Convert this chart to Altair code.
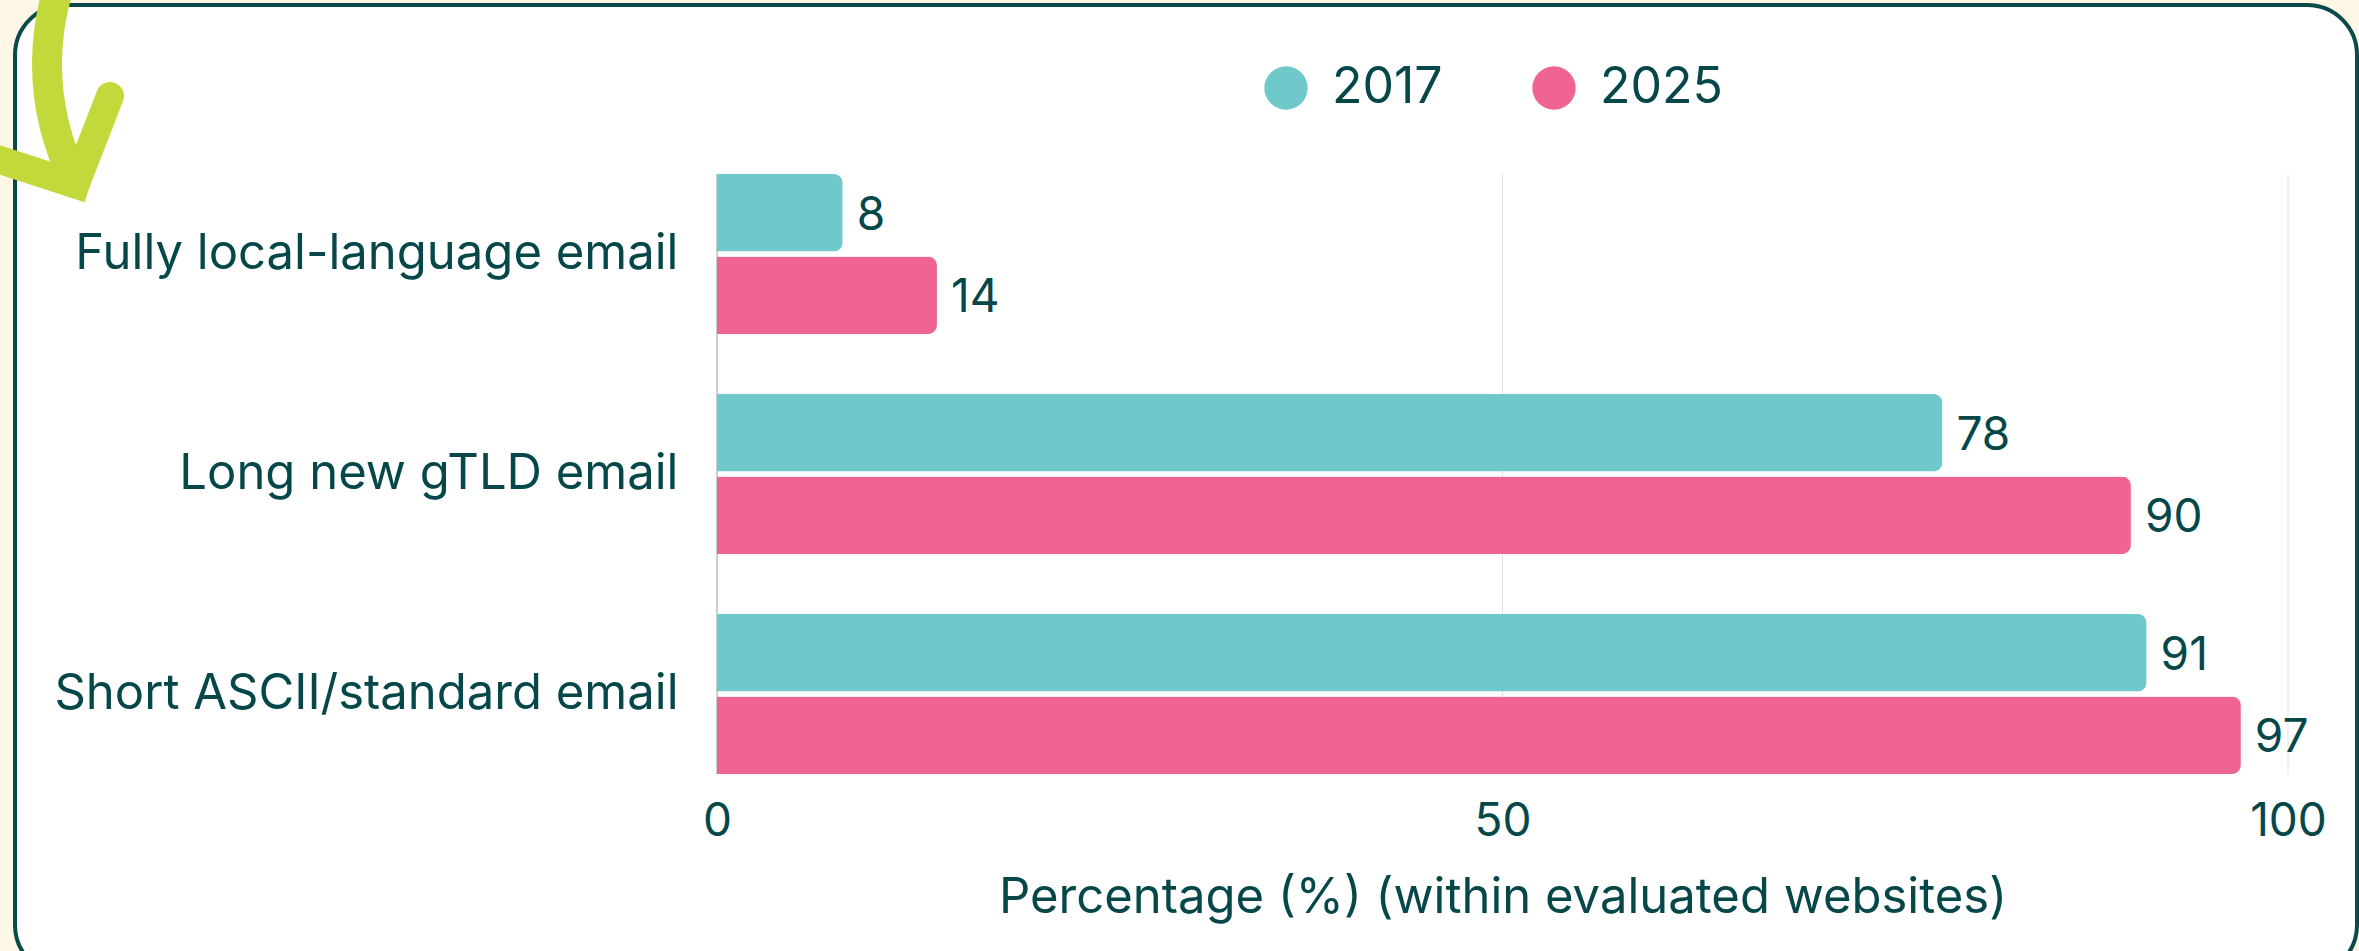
import altair as alt
import pandas as pd

# ---- data ----
categories = ["Fully local-language email", "Long new gTLD email", "Short ASCII/standard email"]
years = ["2017", "2025"]
values_2017 = [8, 78, 91]
values_2025 = [14, 90, 97]
x_ticks = [0, 50, 100]
colors = ["#6FC9CA", "#EF6490"]

rows = []
for c, a, b in zip(categories, values_2017, values_2025):
    rows.append({"category": c, "year": years[0], "value": a})
    rows.append({"category": c, "year": years[1], "value": b})
df = pd.DataFrame(rows)
grid_df = pd.DataFrame({"value": x_ticks})
one = pd.DataFrame({"k": [0]})

# ---- layout ----
W, H = 1571, 600
L, T = 717, 174
FONT = "Inter"
TEXT = "#06474A"
LIME = "#C3D93B"
FS = 46

# decorative card
card = alt.Chart(one).mark_rect(
    fill="white", stroke="#0B4A4A", strokeWidth=4, cornerRadius=50
).encode(
    x=alt.value(15 - L), x2=alt.value(2357 - L),
    y=alt.value(5 - T), y2=alt.value(975 - T),
)

# decorative arrow
stem = alt.Chart(one).mark_arc(color=LIME).encode(
    x=alt.value(304 - L), y=alt.value(64 - T),
    radius=alt.value(272), radius2=alt.value(242),
    theta=alt.value(4.227), theta2=alt.value(5.236),
)
arm1 = alt.Chart(one).mark_rule(color=LIME, strokeWidth=28, strokeCap="square").encode(
    x=alt.value(-10 - L), y=alt.value(156.7 - T),
    x2=alt.value(75.6 - L), y2=alt.value(184.5 - T),
)
arm2 = alt.Chart(one).mark_rule(color=LIME, strokeWidth=28, strokeCap="round").encode(
    x=alt.value(75.6 - L), y=alt.value(184.5 - T),
    x2=alt.value(110 - L), y2=alt.value(96 - T),
)

xscale = alt.Scale(domain=[0, 100], nice=False, zero=True)
xaxis = alt.Axis(
    values=x_ticks, title="Percentage (%) (within evaluated websites)",
    labelFont=FONT, labelFontSize=FS, labelColor=TEXT, labelPadding=25,
    ticks=False, tickSize=0, domain=False, grid=False, labelFlush=False,
    titleFont=FONT, titleFontSize=49, titleFontWeight="normal", titleColor=TEXT,
    titlePadding=29, zindex=1,
)

grid = alt.Chart(grid_df).mark_rule(strokeWidth=1).encode(
    x=alt.X("value:Q", scale=xscale, axis=xaxis),
    color=alt.condition(alt.datum.value == 0, alt.value("#8FA2A2"), alt.value("#E0E3E3")),
)

yaxis = alt.Axis(
    title=None, labelFont=FONT, labelFontSize=49, labelColor=TEXT,
    labelPadding=39, ticks=False, tickSize=0, domain=False, grid=False,
    labelLimit=1000, zindex=1,
)
yenc = alt.Y(
    "category:N", sort=categories,
    scale=alt.Scale(paddingInner=0.273, paddingOuter=0),
    axis=yaxis,
)
yoff = alt.YOffset("year:N", sort=years, scale=alt.Scale(paddingInner=0.06, paddingOuter=0))

bars = alt.Chart(df).mark_bar(cornerRadiusEnd=9).encode(
    x=alt.X("value:Q", scale=xscale, axis=xaxis),
    y=yenc,
    yOffset=yoff,
    color=alt.Color(
        "year:N", sort=years,
        scale=alt.Scale(domain=years, range=colors),
        legend=alt.Legend(
            title=None, orient="none", legendX=544, legendY=-111,
            direction="horizontal", symbolType="circle", symbolSize=1886,
            symbolStrokeWidth=0, labelFont=FONT, labelFontSize=50, labelColor=TEXT,
            labelOffset=21, columnPadding=86, padding=0, zindex=1,
        ),
    ),
)

labels = alt.Chart(df).mark_text(
    align="left", baseline="middle", dx=14, dy=3, font=FONT, fontSize=FS, color=TEXT
).encode(
    x=alt.X("value:Q", scale=xscale, axis=xaxis),
    y=alt.Y("category:N", sort=categories, axis=yaxis),
    yOffset=alt.YOffset("year:N", sort=years),
    text=alt.Text("value:Q"),
)

chart = alt.layer(card, stem, arm1, arm2, grid, bars, labels).properties(
    width=W, height=H,
    padding={"left": L, "top": T, "right": 2359 - L - W, "bottom": 951 - T - H},
    autosize=alt.AutoSizeParams(type="none"),
    background="#FEF7E6",
).configure_view(stroke=None)

chart.save("out.html", embed_options={"renderer": "svg", "actions": False})
